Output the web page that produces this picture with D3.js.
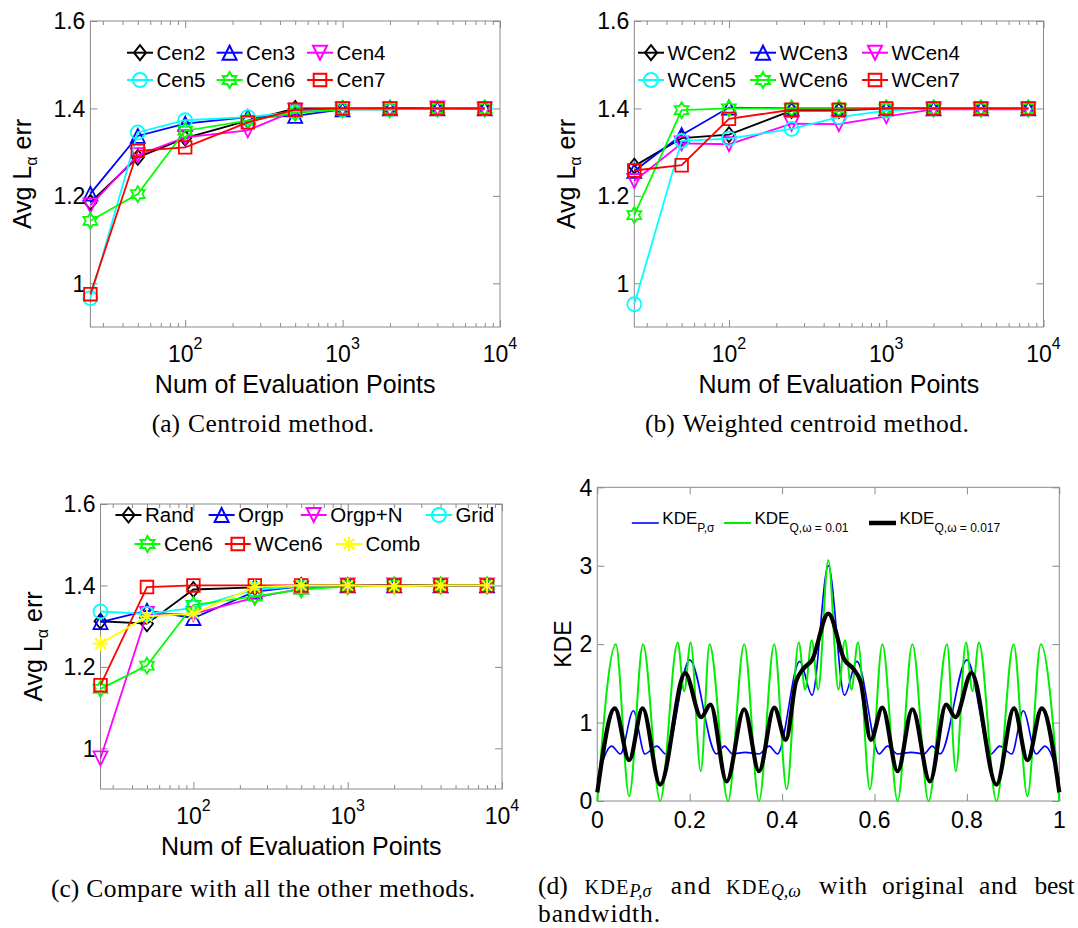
<!DOCTYPE html>
<html>
<head>
<meta charset="utf-8">
<script src="https://cdn.jsdelivr.net/npm/d3@7"></script>
<style>
  body { margin: 0; background: #fff; }
  text { font-family: "Liberation Sans", Arial, sans-serif; fill: #000; }
  .cap { font-family: "Liberation Serif", "Times New Roman", serif; }
</style>
</head>
<body>
<svg id="fig" width="1078" height="928"></svg>
<script>
// ---------- data ----------
var evalPoints = [25, 50, 100, 250, 500, 1000, 2000, 4000, 8000]

// (a) centroid method
var cenNames = ['Cen2', 'Cen3', 'Cen4', 'Cen5', 'Cen6', 'Cen7']
var cen2 = [1.185, 1.288, 1.332, 1.372, 1.400, 1.400, 1.400, 1.400, 1.400]
var cen3 = [1.205, 1.337, 1.365, 1.380, 1.383, 1.398, 1.400, 1.400, 1.400]
var cen4 = [1.178, 1.293, 1.334, 1.350, 1.395, 1.398, 1.398, 1.400, 1.398]
var cen5 = [0.966, 1.345, 1.373, 1.380, 1.392, 1.398, 1.398, 1.400, 1.400]
var cen6 = [1.143, 1.204, 1.349, 1.372, 1.390, 1.398, 1.398, 1.400, 1.400]
var cen7 = [0.975, 1.303, 1.311, 1.368, 1.397, 1.400, 1.400, 1.400, 1.400]

// (b) weighted centroid method
var wcenNames = ['WCen2', 'WCen3', 'WCen4', 'WCen5', 'WCen6', 'WCen7']
var wcen2 = [1.268, 1.332, 1.340, 1.395, 1.395, 1.400, 1.400, 1.400, 1.400]
var wcen3 = [1.257, 1.339, 1.402, 1.400, 1.400, 1.400, 1.400, 1.400, 1.400]
var wcen4 = [1.234, 1.320, 1.318, 1.365, 1.364, 1.382, 1.398, 1.398, 1.398]
var wcen5 = [0.952, 1.326, 1.331, 1.353, 1.380, 1.395, 1.400, 1.400, 1.400]
var wcen6 = [1.156, 1.396, 1.400, 1.400, 1.400, 1.400, 1.400, 1.400, 1.400]
var wcen7 = [1.258, 1.270, 1.376, 1.397, 1.397, 1.400, 1.400, 1.400, 1.400]

// (c) all methods
var allNames = ['Rand', 'Orgp', 'Orgp+N', 'Grid', 'Cen6', 'WCen6', 'Comb']
var rand = [1.312, 1.306, 1.390, 1.395, 1.400, 1.400, 1.400, 1.400, 1.400]
var orgp = [1.310, 1.338, 1.320, 1.385, 1.398, 1.400, 1.400, 1.400, 1.400]
var orgpN = [0.975, 1.330, 1.330, 1.370, 1.392, 1.400, 1.400, 1.400, 1.400]
var grid = [1.336, 1.330, 1.345, 1.390, 1.398, 1.400, 1.400, 1.400, 1.400]
var cen6b = [1.146, 1.203, 1.352, 1.373, 1.390, 1.398, 1.400, 1.400, 1.400]
var wcen6b = [1.155, 1.396, 1.400, 1.400, 1.400, 1.400, 1.400, 1.400, 1.400]
var comb = [1.257, 1.324, 1.331, 1.396, 1.400, 1.400, 1.398, 1.400, 1.400]

// (d) KDE curves, read at their turning points
var kdeBlueX = [0, 0.031, 0.05, 0.078, 0.103, 0.129, 0.148, 0.2, 0.258, 0.275, 0.293, 0.32, 0.35, 0.372, 0.39, 0.438, 0.465, 0.5,
  0.535, 0.562, 0.61, 0.628, 0.65, 0.68, 0.707, 0.725, 0.742, 0.8, 0.852, 0.871, 0.897, 0.922, 0.95, 0.969, 1]
var kdeBlueY = [0.27, 0.70, 0.60, 1.15, 0.60, 0.70, 0.60, 1.80, 0.60, 0.70, 0.60, 0.62, 0.60, 0.70, 0.60, 1.78, 1.35, 3.0,
  1.35, 1.78, 0.60, 0.70, 0.60, 0.62, 0.60, 0.70, 0.60, 1.80, 0.60, 0.70, 0.60, 1.15, 0.60, 0.70, 0.27]

var kdeGreenX = [0, 0.04, 0.069, 0.099, 0.136, 0.174, 0.188, 0.202, 0.224, 0.243, 0.283, 0.318, 0.35, 0.383, 0.41, 0.436, 0.45, 0.464, 0.478, 0.5,
  0.522, 0.536, 0.55, 0.564, 0.59, 0.617, 0.65, 0.682, 0.717, 0.757, 0.776, 0.798, 0.812, 0.826, 0.864, 0.901, 0.931, 0.96, 1]
var kdeGreenY = [0, 2.0, 0.06, 2.0, 0, 2.02, 1.4, 2.02, 0.38, 2.0, 0, 2.0, 0, 2.0, 0.15, 2.02, 1.42, 2.05, 1.42, 3.07,
  1.42, 2.05, 1.42, 2.02, 0.15, 2.0, 0, 2.0, 0, 2.0, 0.38, 2.02, 1.4, 2.02, 0, 2.0, 0.06, 2.0, 0]

var kdeBlackX = [0, 0.038, 0.069, 0.098, 0.136, 0.19, 0.225, 0.245, 0.28, 0.318, 0.35, 0.383, 0.408, 0.43, 0.445, 0.465, 0.5,
  0.535, 0.555, 0.57, 0.592, 0.617, 0.65, 0.682, 0.72, 0.755, 0.775, 0.81, 0.864, 0.902, 0.931, 0.962, 1]
var kdeBlackY = [0.11, 1.18, 0.52, 1.18, 0.21, 1.63, 1.07, 1.23, 0.25, 1.17, 0.38, 1.19, 0.78, 1.52, 1.68, 1.80, 2.39,
  1.80, 1.68, 1.52, 0.78, 1.19, 0.38, 1.17, 0.25, 1.23, 1.07, 1.63, 0.21, 1.18, 0.52, 1.18, 0.11]

var errTicks = [1, 1.2, 1.4, 1.6]
var kdeXTicks = [0, 0.2, 0.4, 0.6, 0.8, 1]
var kdeYTicks = [0, 1, 2, 3, 4]

// ---------- styles ----------
var AXIS_GREY = '#8a8a8a'
var CAP_FONT = 25.5
var sixStyles = [
  { color: '#000000', mark: 'diamond' },
  { color: '#0000ff', mark: 'triUp' },
  { color: '#ff00ff', mark: 'triDown' },
  { color: '#00ffff', mark: 'circle' },
  { color: '#00ff00', mark: 'hexagram' },
  { color: '#ff0000', mark: 'square' }
]
var allStyles = sixStyles.slice(0, 4).concat([
  { color: '#00ff00', mark: 'hexagram' },
  { color: '#ff0000', mark: 'square' },
  { color: '#ffff00', mark: 'asterisk' }
])

// marker shapes, size argument is the radius in px
var MARK = {
  diamond: { draw: function (c, r) { c.moveTo(0, -r); c.lineTo(r * 0.8, 0); c.lineTo(0, r); c.lineTo(-r * 0.8, 0); c.closePath() } },
  triUp: { draw: function (c, r) { c.moveTo(0, -r); c.lineTo(r, r); c.lineTo(-r, r); c.closePath() } },
  triDown: { draw: function (c, r) { c.moveTo(0, r); c.lineTo(r, -r); c.lineTo(-r, -r); c.closePath() } },
  circle: { draw: function (c, r) { c.moveTo(r, 0); c.arc(0, 0, r, 0, 2 * Math.PI) } },
  square: { draw: function (c, r) { c.rect(-r * 0.9, -r * 0.9, r * 1.8, r * 1.8) } },
  hexagram: {
    draw: function (c, r) {
      for (var i = 0; i < 12; i++) {
        var a = -Math.PI / 2 + i * Math.PI / 6
        var rr = i % 2 ? r * 0.58 : r
        if (i === 0) c.moveTo(rr * Math.cos(a), rr * Math.sin(a))
        else c.lineTo(rr * Math.cos(a), rr * Math.sin(a))
      }
      c.closePath()
    }
  },
  asterisk: {
    draw: function (c, r) {
      for (var i = 0; i < 4; i++) {
        var a = i * Math.PI / 4
        c.moveTo(r * Math.cos(a), r * Math.sin(a))
        c.lineTo(-r * Math.cos(a), -r * Math.sin(a))
      }
    }
  }
}
var MARK_R = { diamond: 7.5, triUp: 7, triDown: 7, circle: 7, square: 7, hexagram: 8, asterisk: 7.5 }

var svg = d3.select('#fig')

function symbolPath(mark) {
  return d3.symbol().type(MARK[mark]).size(MARK_R[mark])()
}

function greyTicks(sel) {
  sel.select('.domain').remove()
  sel.selectAll('line').attr('stroke', AXIS_GREY).attr('stroke-width', 1)
}

function drawBox(g, b) {
  g.append('rect')
    .attr('x', b.l).attr('y', b.t)
    .attr('width', b.r - b.l).attr('height', b.b - b.t)
    .attr('fill', 'none').attr('stroke', AXIS_GREY).attr('stroke-width', 1)
}

// ---------- error panels (a), (b), (c) ----------
function drawErrPanel(cfg) {
  var b = cfg.box
  var g = svg.append('g')
  var x = d3.scaleLog().domain([25, 10000]).range([b.l, b.r])
  var y = d3.scaleLinear().domain([0.9, 1.6]).range([b.b, b.t])

  drawBox(g, b)

  var all = x.ticks()
  var major = all.filter(v => Math.abs(Math.log10(v) - Math.round(Math.log10(v))) < 1e-9)
  var minor = all.filter(v => major.indexOf(v) < 0)

  g.append('g').attr('transform', 'translate(0,' + b.b + ')')
    .call(d3.axisBottom(x).tickValues(major).tickSize(-7).tickFormat('')).call(greyTicks)
  g.append('g').attr('transform', 'translate(0,' + b.b + ')')
    .call(d3.axisBottom(x).tickValues(minor).tickSize(-4).tickFormat('')).call(greyTicks)
  g.append('g').attr('transform', 'translate(0,' + b.t + ')')
    .call(d3.axisTop(x).tickValues(major).tickSize(-7).tickFormat('')).call(greyTicks)
  g.append('g').attr('transform', 'translate(0,' + b.t + ')')
    .call(d3.axisTop(x).tickValues(minor).tickSize(-4).tickFormat('')).call(greyTicks)
  g.append('g').attr('transform', 'translate(' + b.l + ',0)')
    .call(d3.axisLeft(y).tickValues(errTicks).tickSize(-7).tickFormat('')).call(greyTicks)
  g.append('g').attr('transform', 'translate(' + b.r + ',0)')
    .call(d3.axisRight(y).tickValues(errTicks).tickSize(-7).tickFormat('')).call(greyTicks)

  // tick labels
  major.forEach(function (v) {
    var t = g.append('text')
      .attr('x', x(v)).attr('y', b.b + 35)
      .attr('text-anchor', 'middle').style('font-size', '23px')
    t.append('tspan').text('10')
    t.append('tspan').attr('dy', -13).style('font-size', '16px').text(Math.round(Math.log10(v)))
  })
  errTicks.forEach(function (v) {
    g.append('text')
      .attr('x', b.l - 5).attr('y', y(v)).attr('dy', '0.36em')
      .attr('text-anchor', 'end').style('font-size', '23px')
      .text(v === 1 ? '1' : v.toFixed(1))
  })

  // axis labels
  g.append('text')
    .attr('x', (b.l + b.r) / 2).attr('y', b.b + 66)
    .attr('text-anchor', 'middle').style('font-size', '25px')
    .text('Num of Evaluation Points')
  var yl = g.append('text')
    .attr('transform', 'translate(' + (b.l - 59) + ',' + (b.t + b.b) / 2 + ') rotate(-90)')
    .attr('text-anchor', 'middle').style('font-size', '25px')
  yl.append('tspan').text('Avg L')
  yl.append('tspan').attr('dy', 6).style('font-size', '16px').text('\u03b1')
  yl.append('tspan').attr('dy', -6).text(' err')

  // series
  var line = d3.line().x((d, i) => x(evalPoints[i])).y(d => y(d))
  cfg.series.forEach(function (vals, k) {
    var st = cfg.styles[k]
    g.append('path').datum(vals).attr('d', line)
      .attr('fill', 'none').attr('stroke', st.color).attr('stroke-width', 1.8)
    g.selectAll('.m' + k).data(vals).enter().append('path')
      .attr('transform', (d, i) => 'translate(' + x(evalPoints[i]) + ',' + y(d) + ')')
      .attr('d', symbolPath(st.mark))
      .attr('fill', 'none').attr('stroke', st.color).attr('stroke-width', 1.8)
  })

  // legend
  cfg.names.forEach(function (name, k) {
    var st = cfg.styles[k]
    var p = cfg.legend[k]
    g.append('line').attr('x1', p[0]).attr('x2', p[0] + 26).attr('y1', p[1]).attr('y2', p[1])
      .attr('stroke', st.color).attr('stroke-width', 2)
    g.append('path').attr('transform', 'translate(' + (p[0] + 13) + ',' + p[1] + ')')
      .attr('d', symbolPath(st.mark))
      .attr('fill', 'none').attr('stroke', st.color).attr('stroke-width', 2)
    g.append('text').attr('x', p[0] + 29.5).attr('y', p[1]).attr('dy', '0.36em')
      .style('font-size', '20.5px').text(name)
  })
}

drawErrPanel({
  box: { l: 90.4, r: 500, t: 21, b: 327 },
  names: cenNames,
  series: [cen2, cen3, cen4, cen5, cen6, cen7],
  styles: sixStyles,
  legend: [[127, 52.7], [216.6, 52.7], [307, 52.7], [127, 80], [216.6, 80], [307, 80]]
})

drawErrPanel({
  box: { l: 634.3, r: 1043.5, t: 21, b: 327 },
  names: wcenNames,
  series: [wcen2, wcen3, wcen4, wcen5, wcen6, wcen7],
  styles: sixStyles,
  legend: [[638, 52.7], [750, 52.7], [862, 52.7], [638, 80], [750, 80], [862, 80]]
})

drawErrPanel({
  box: { l: 100.5, r: 502, t: 504, b: 789 },
  names: allNames,
  series: [rand, orgp, orgpN, grid, cen6b, wcen6b, comb],
  styles: allStyles,
  legend: [[115.5, 515], [208.6, 515], [300.7, 515], [425.9, 515], [134.5, 544], [224.8, 544], [336, 544]]
})

// ---------- KDE panel (d) ----------
;(function () {
  var b = { l: 597.3, r: 1059.3, t: 487.3, b: 801 }
  var g = svg.append('g')
  var x = d3.scaleLinear().domain([0, 1]).range([b.l, b.r])
  var y = d3.scaleLinear().domain([0, 4]).range([b.b, b.t])

  drawBox(g, b)
  g.append('g').attr('transform', 'translate(0,' + b.b + ')')
    .call(d3.axisBottom(x).tickValues(kdeXTicks).tickSize(-7).tickFormat('')).call(greyTicks)
  g.append('g').attr('transform', 'translate(0,' + b.t + ')')
    .call(d3.axisTop(x).tickValues(kdeXTicks).tickSize(-7).tickFormat('')).call(greyTicks)
  g.append('g').attr('transform', 'translate(' + b.l + ',0)')
    .call(d3.axisLeft(y).tickValues(kdeYTicks).tickSize(-7).tickFormat('')).call(greyTicks)
  g.append('g').attr('transform', 'translate(' + b.r + ',0)')
    .call(d3.axisRight(y).tickValues(kdeYTicks).tickSize(-7).tickFormat('')).call(greyTicks)

  kdeXTicks.forEach(function (v) {
    g.append('text').attr('x', x(v)).attr('y', b.b + 27)
      .attr('text-anchor', 'middle').style('font-size', '23px')
      .text(v === 0 || v === 1 ? String(v) : v.toFixed(1))
  })
  kdeYTicks.forEach(function (v) {
    g.append('text').attr('x', b.l - 5).attr('y', y(v)).attr('dy', '0.36em')
      .attr('text-anchor', 'end').style('font-size', '23px').text(v)
  })
  g.append('text')
    .attr('transform', 'translate(' + (b.l - 26) + ',' + (b.t + b.b) / 2 + ') rotate(-90)')
    .attr('text-anchor', 'middle').style('font-size', '23px').text('KDE')

  var curves = [
    { xs: kdeBlueX, ys: kdeBlueY, color: '#0000ff', w: 1.6 },
    { xs: kdeGreenX, ys: kdeGreenY, color: '#00ee00', w: 2 },
    { xs: kdeBlackX, ys: kdeBlackY, color: '#000000', w: 4.2 }
  ]
  curves.forEach(function (cv) {
    var line = d3.line().curve(d3.curveMonotoneX)
      .x((d, i) => x(cv.xs[i])).y(d => y(d))
    g.append('path').datum(cv.ys).attr('d', line)
      .attr('fill', 'none').attr('stroke', cv.color).attr('stroke-width', cv.w)
      .attr('stroke-linejoin', 'round')
  })

  // legend
  var leg = [
    { x: 631.8, sub: 'P,\u03c3', color: '#0000ff', w: 1.6 },
    { x: 724, sub: 'Q,\u03c9 = 0.01', color: '#00ee00', w: 2 },
    { x: 869, sub: 'Q,\u03c9 = 0.017', color: '#000000', w: 4.5 }
  ]
  leg.forEach(function (e) {
    g.append('line').attr('x1', e.x).attr('x2', e.x + 27).attr('y1', 523).attr('y2', 523)
      .attr('stroke', e.color).attr('stroke-width', e.w)
    var t = g.append('text').attr('x', e.x + 30.5).attr('y', 524).style('font-size', '17px')
    t.append('tspan').text('KDE')
    t.append('tspan').attr('dy', 7.5).style('font-size', '12px').text(e.sub)
  })
})()

// ---------- captions ----------
function caption(label, body, lx, bx, by, bodyW) {
  svg.append('text').attr('class', 'cap').attr('x', lx).attr('y', by)
    .style('font-size', CAP_FONT + 'px').text(label)
  svg.append('text').attr('class', 'cap').attr('x', bx).attr('y', by)
    .style('font-size', CAP_FONT + 'px')
    .attr('textLength', bodyW).attr('lengthAdjust', 'spacing')
    .text(body)
}
caption('(a)', 'Centroid method.', 151.7, 188, 432, 186)
caption('(b)', 'Weighted centroid method.', 645, 682.8, 432, 286)
caption('(c)', 'Compare with all the other methods.', 51, 86.2, 896.5, 389)

;(function () {
  var by = 893.5
  function word(x, s, w) {
    var t = svg.append('text').attr('class', 'cap').attr('x', x).attr('y', by)
      .style('font-size', CAP_FONT + 'px').text(s)
    if (w) t.attr('textLength', w).attr('lengthAdjust', 'spacing')
  }
  function kde(x, sub) {
    var t = svg.append('text').attr('class', 'cap').attr('x', x).attr('y', by)
      .style('font-size', CAP_FONT + 'px')
    t.append('tspan').style('font-size', (CAP_FONT * 0.8) + 'px').style('letter-spacing', '1px').text('KDE')
    t.append('tspan').attr('dy', 3).style('font-size', (CAP_FONT * 0.7) + 'px')
      .style('font-style', 'italic').text(sub)
  }
  word(538, '(d)')
  kde(584.6, 'P,\u03c3')
  word(670.8, 'and', 39.6)
  kde(726, 'Q,\u03c9')
  word(819, 'with', 48)
  word(882, 'original', 82)
  word(979, 'and', 38)
  word(1034.6, 'best', 40)
  svg.append('text').attr('class', 'cap').attr('x', 538).attr('y', 922)
    .style('font-size', CAP_FONT + 'px')
    .attr('textLength', 122).attr('lengthAdjust', 'spacing')
    .text('bandwidth.')
})()
</script>
</body>
</html>
